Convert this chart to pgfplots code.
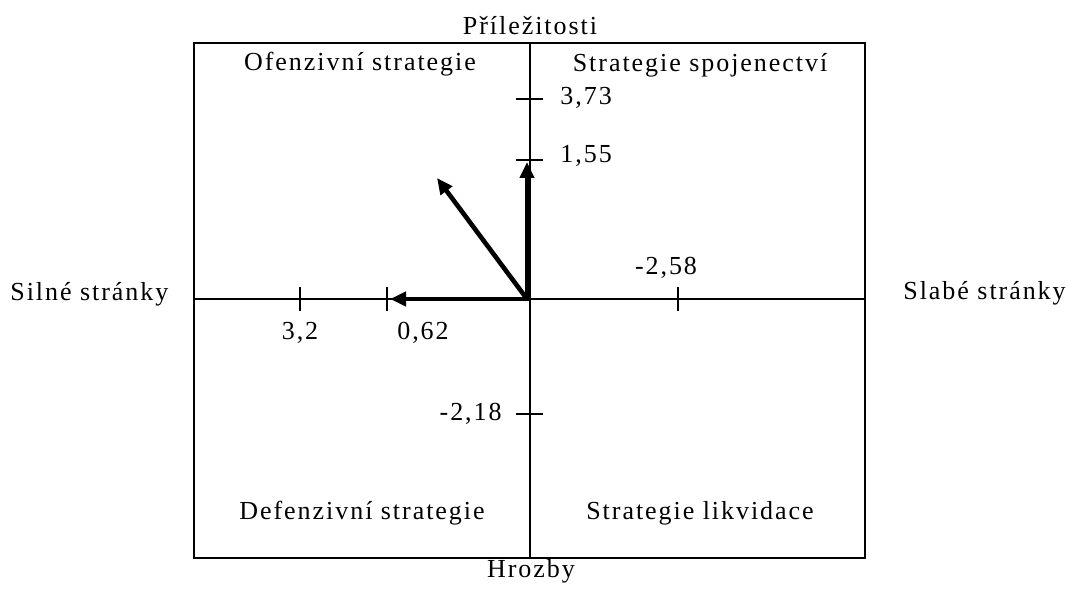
\documentclass[border=0pt]{standalone}
\usepackage{fontspec}
\setmainfont[LetterSpace=7.5]{Liberation Serif}
\usepackage{pgfplots}
\pgfplotsset{compat=1.18}
\usetikzlibrary{arrows.meta}
\tikzset{lab/.style={font=\fontsize{13}{15}\selectfont, inner sep=0pt}}
\begin{document}
\begin{tikzpicture}
\begin{axis}[
  x=0.5pt, y=0.5pt,
  xmin=-336, xmax=335, ymin=-259, ymax=256,
  axis line style={line width=0.8pt, black},
  ticks=none,
  clip=false,
  scale only axis,
]
% bounding box of the whole picture
\path (axis cs:-530,-293) rectangle (axis cs:538,299);
% cross axes
\draw[line width=0.8pt] (axis cs:-336,0) -- (axis cs:335,0);
\draw[line width=0.8pt] (axis cs:0,-259) -- (axis cs:0,256);
% ticks on x
\draw[line width=0.8pt] (axis cs:-230,-12) -- (axis cs:-230,12);
\draw[line width=0.8pt] (axis cs:-143,-12) -- (axis cs:-143,12);
\draw[line width=0.8pt] (axis cs:148,-12) -- (axis cs:148,12);
% ticks on y
\draw[line width=0.8pt] (axis cs:-14,200) -- (axis cs:13,200);
\draw[line width=0.8pt] (axis cs:-14,139) -- (axis cs:13,139);
\draw[line width=0.8pt] (axis cs:-14,-115) -- (axis cs:13,-115);
% vectors
\addplot[line width=2.3pt, black, -{Triangle[length=8pt,width=7pt]}] coordinates {(0,0) (-140,0)};
\addplot[line width=2.3pt, black, -{Triangle[length=8pt,width=7pt]}] coordinates {(-3,0) (-3,137)};
\addplot[line width=2.3pt, black, -{Triangle[length=8pt,width=7pt]}] coordinates {(-3,0) (-93,121)};
% tick labels
\node[lab, anchor=base west] at (axis cs:30,194) {3,73};
\node[lab, anchor=base west] at (axis cs:30,136) {1,55};
\node[lab, anchor=base] at (axis cs:136,24) {-2,58};
\node[lab, anchor=base] at (axis cs:-230,-41) {3,2};
\node[lab, anchor=base] at (axis cs:-107,-41) {0,62};
\node[lab, anchor=base east] at (axis cs:-28,-122) {-2,18};
% quadrant labels
\node[lab, anchor=base] at (axis cs:-170,228) {Ofenzivní strategie};
\node[lab, anchor=base] at (axis cs:170,227) {Strategie spojenectví};
\node[lab, anchor=base] at (axis cs:-168,-221) {Defenzivní strategie};
\node[lab, anchor=base] at (axis cs:170,-221) {Strategie likvidace};
% side labels
\node[lab, anchor=base] at (axis cs:0,264) {Příležitosti};
\node[lab, anchor=base] at (axis cs:1,-279) {Hrozby};
\node[lab, anchor=base west] at (axis cs:-520,-2) {Silné stránky};
\node[lab, anchor=base west] at (axis cs:373,-1) {Slabé stránky};
\end{axis}
\end{tikzpicture}
\end{document}
